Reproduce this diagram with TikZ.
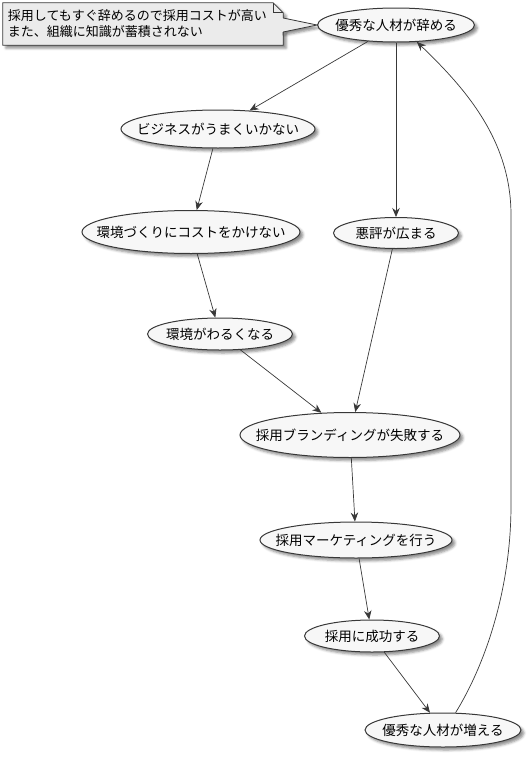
\documentclass[tikz,border=0pt]{standalone}
\usepackage{fontspec}
\setmainfont{Noto Sans CJK JP}
\usetikzlibrary{shapes.geometric, arrows.meta, shadows.blur, backgrounds}

\definecolor{evtfill}{HTML}{F7F7F7}
\definecolor{notefill}{HTML}{EBEBEB}
\definecolor{edge}{HTML}{383838}

\tikzset{arrow/.style={-{Stealth[length=9pt, width=7.5pt]}, line width=0.7pt, draw=edge}}
\tikzset{softshadow/.style={blur shadow={shadow xshift=3pt, shadow yshift=-3pt, shadow blur radius=2.5pt, shadow opacity=45}}}
\tikzset{evt/.style={ellipse, draw=edge, line width=1pt, fill=evtfill, inner sep=0pt, softshadow, font=\fontsize{13.5}{16}\selectfont}}

\begin{document}
\begin{tikzpicture}[x=1pt, y=-1pt]
            \useasboundingbox (0,0) rectangle (527,758);
            \node[text width=270pt, inner xsep=5pt, minimum height=42pt, align=left, font=\fontsize{13}{16}\selectfont] (note) at (143,24) {採用してもすぐ辞めるので採用コストが高い\\また、組織に知識が蓄積されない};
            \node[evt, minimum width=157pt, minimum height=34pt] (A) at (396,25) {\makebox[0pt]{優秀な人材が辞める}};
            \node[evt, minimum width=194pt, minimum height=38pt] (B) at (218,129) {\makebox[0pt]{ビジネスがうまくいかない}};
            \node[evt, minimum width=218pt, minimum height=43pt] (C) at (191,232) {\makebox[0pt]{環境づくりにコストをかけない}};
            \node[evt, minimum width=125pt, minimum height=31pt] (D) at (396,233) {\makebox[0pt]{悪評が広まる}};
            \node[evt, minimum width=145pt, minimum height=32pt] (E) at (220,334) {\makebox[0pt]{環境がわるくなる}};
            \node[evt, minimum width=220pt, minimum height=45pt] (F) at (350,435) {\makebox[0pt]{採用ブランディングが失敗する}};
            \node[evt, minimum width=192pt, minimum height=36pt] (G) at (356,540) {\makebox[0pt]{採用マーケティングを行う}};
            \node[evt, minimum width=135pt, minimum height=32pt] (H) at (372,636) {\makebox[0pt]{採用に成功する}};
            \node[evt, minimum width=156pt, minimum height=34pt] (I) at (443,730) {\makebox[0pt]{優秀な人材が増える}};
            \begin{pgfonlayer}{background}
                \draw[fill=notefill, draw=edge, line width=0.8pt, softshadow] (note.south west) -- (note.north west) -- ([xshift=-10pt]note.north east) -- ([yshift=-10pt]note.north east) -- (note.south east) -- cycle;
                \draw[draw=edge, line width=0.8pt] ([xshift=-10pt]note.north east) -- ([xshift=-10pt, yshift=-10pt]note.north east) -- ([yshift=-10pt]note.north east);
                \fill[notefill, softshadow] ([xshift=-1pt, yshift=6pt]note.east) -- (A.west) -- ([xshift=-1pt, yshift=-8pt]note.east) -- cycle;
            \end{pgfonlayer}
            \fill[notefill] ([xshift=-1pt, yshift=6pt]note.east) -- (A.west) -- ([xshift=-1pt, yshift=-8pt]note.east) -- cycle;
            \draw[draw=edge, line width=0.8pt] ([yshift=6pt]note.east) -- (A.west) -- ([yshift=-8pt]note.east);
            \coordinate (r1) at (511,505);
            \coordinate (r2) at (511,215);
            \draw[arrow] (A) -- (B);
            \draw[arrow] (A) -- (D);
            \draw[arrow] (B) -- (C);
            \draw[arrow] (C) -- (E);
            \draw[arrow] (D) -- (F);
            \draw[arrow] (E) -- (F);
            \draw[arrow] (F) -- (G);
            \draw[arrow] (G) -- (H);
            \draw[arrow] (H) -- (I);
            \draw[arrow] (I.54) .. controls (485,665) and (511,590) .. (r1) -- (r2) .. controls (511,140) and (465,88) .. (A.-39);
        \end{tikzpicture}
\end{document}
